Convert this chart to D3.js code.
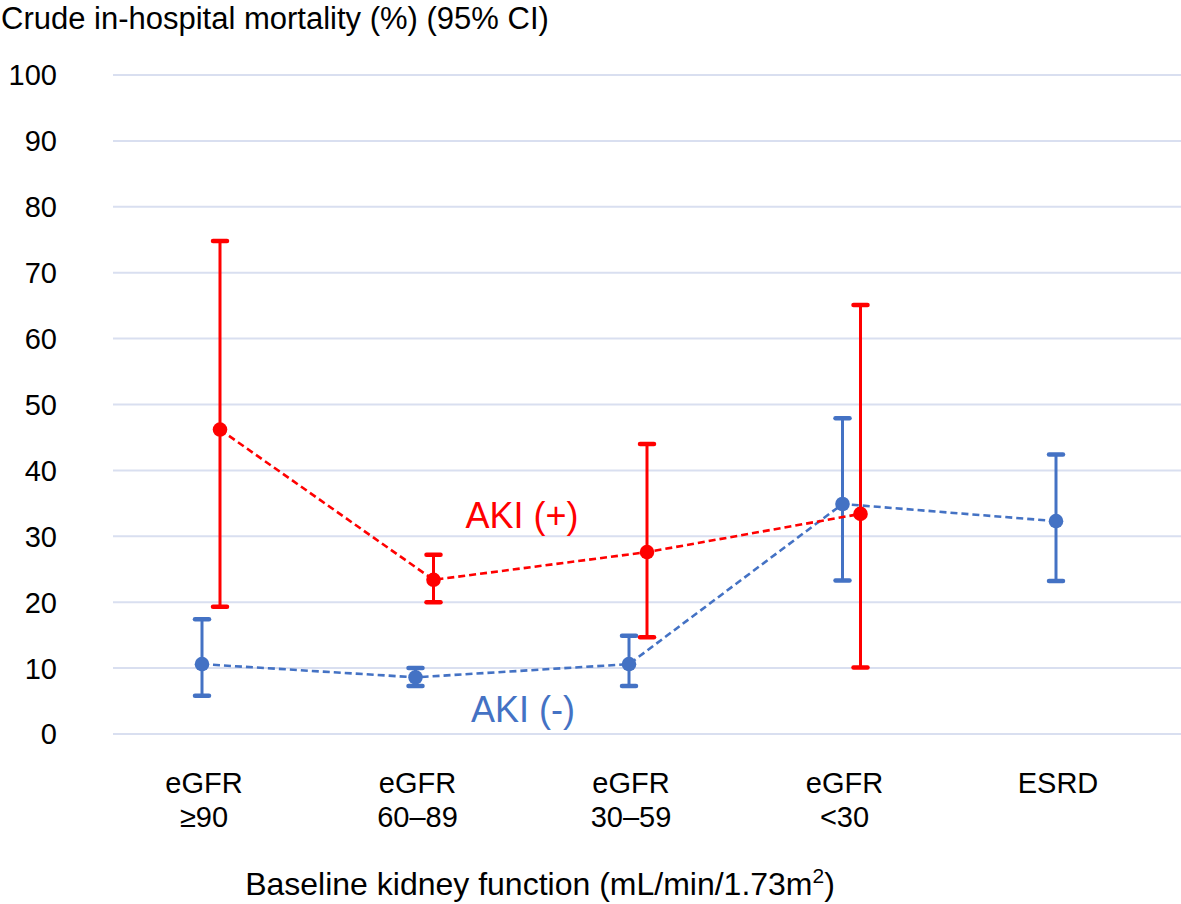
<!DOCTYPE html>
<html>
<head>
<meta charset="utf-8">
<script src="https://cdn.jsdelivr.net/npm/d3@7"></script>
<style>
  html, body { margin: 0; padding: 0; background: #fff; }
  svg { display: block; font-family: "Liberation Sans", Arial, sans-serif; }
</style>
</head>
<body>
<svg id="chart" width="1181" height="904"></svg>
<script>
// ---- data ----
const categories = ["eGFR\n≥90", "eGFR\n60–89", "eGFR\n30–59", "eGFR\n<30", "ESRD"];
const akiPosMean = [46.2, 23.4, 27.6, 33.4, null];
const akiPosLow  = [19.3, 20.0, 14.7, 10.1, null];
const akiPosHigh = [74.8, 27.2, 44.0, 65.1, null];
const akiNegMean = [10.6, 8.6, 10.6, 34.9, 32.3];
const akiNegLow  = [5.8, 7.3, 7.3, 23.3, 23.2];
const akiNegHigh = [17.4, 10.0, 14.9, 47.9, 42.4];
const yTicks = [0, 10, 20, 30, 40, 50, 60, 70, 80, 90, 100];

const svg = d3.select("#chart");
const y = d3.scaleLinear().domain([0, 100]).range([734, 75]);
const x = d3.scalePoint().domain(categories).range([202, 1056]);

// gridlines
svg.append("g").selectAll("line").data(yTicks).join("line")
  .attr("x1", 113).attr("x2", 1181)
  .attr("y1", d => y(d)).attr("y2", d => y(d))
  .attr("stroke", "#d9dff0").attr("stroke-width", 2);

// y tick labels
svg.append("g").selectAll("text").data(yTicks).join("text")
  .attr("x", 57).attr("y", d => y(d)).attr("dy", "0.36em")
  .attr("text-anchor", "end").attr("font-size", 29).attr("fill", "#000")
  .text(d => d);

// x category labels
const xl = svg.append("g").selectAll("text").data(categories).join("text")
  .attr("x", d => x(d) + 2).attr("y", 793)
  .attr("text-anchor", "middle").attr("font-size", 29).attr("fill", "#000");
xl.each(function(d) {
  const lines = d.split("\n");
  const t = d3.select(this);
  lines.forEach((ln, i) => {
    t.append("tspan").attr("x", x(d) + 2).attr("dy", i === 0 ? 0 : 34).text(ln);
  });
});

// titles
svg.append("text").attr("x", 1).attr("y", 29).attr("font-size", 31).attr("fill", "#000")
  .text("Crude in-hospital mortality (%) (95% CI)");
const xt = svg.append("text").attr("x", 540).attr("y", 895).attr("text-anchor", "middle")
  .attr("font-size", 32).attr("fill", "#000");
xt.append("tspan").text("Baseline kidney function (mL/min/1.73m");
xt.append("tspan").attr("font-size", 21).attr("dy", -12).text("2");
xt.append("tspan").attr("dy", 12).text(")");

function drawSeries(mean, low, high, offset, color) {
  const pts = categories.map((c, i) => ({c, m: mean[i], lo: low[i], hi: high[i]}))
    .filter(d => d.m != null);
  const g = svg.append("g");
  const line = d3.line().x(d => x(d.c) + offset).y(d => y(d.m));
  g.append("path").datum(pts).attr("d", line).attr("fill", "none")
    .attr("stroke", color).attr("stroke-width", 2.6).attr("stroke-dasharray", "7,4");
  g.selectAll(".eb").data(pts).join("line")
    .attr("x1", d => x(d.c) + offset).attr("x2", d => x(d.c) + offset)
    .attr("y1", d => y(d.lo)).attr("y2", d => y(d.hi))
    .attr("stroke", color).attr("stroke-width", 3);
  ["lo", "hi"].forEach(k => {
    g.selectAll(".cap" + k).data(pts).join("line")
      .attr("x1", d => x(d.c) + offset - 7).attr("x2", d => x(d.c) + offset + 7)
      .attr("y1", d => y(d[k])).attr("y2", d => y(d[k]))
      .attr("stroke", color).attr("stroke-width", 4.5).attr("stroke-linecap", "round");
  });
  g.selectAll("circle").data(pts).join("circle")
    .attr("cx", d => x(d.c) + offset).attr("cy", d => y(d.m)).attr("r", 7.3)
    .attr("fill", color);
}

drawSeries(akiNegMean, akiNegLow, akiNegHigh, 0, "#4472c4");
drawSeries(akiPosMean, akiPosLow, akiPosHigh, 18, "#ff0000");

// series labels
svg.append("text").attr("x", 522).attr("y", 528).attr("text-anchor", "middle")
  .attr("font-size", 36).attr("fill", "#ff0000").text("AKI (+)");
svg.append("text").attr("x", 523).attr("y", 722).attr("text-anchor", "middle")
  .attr("font-size", 36).attr("fill", "#4472c4").text("AKI (-)");
</script>
</body>
</html>
